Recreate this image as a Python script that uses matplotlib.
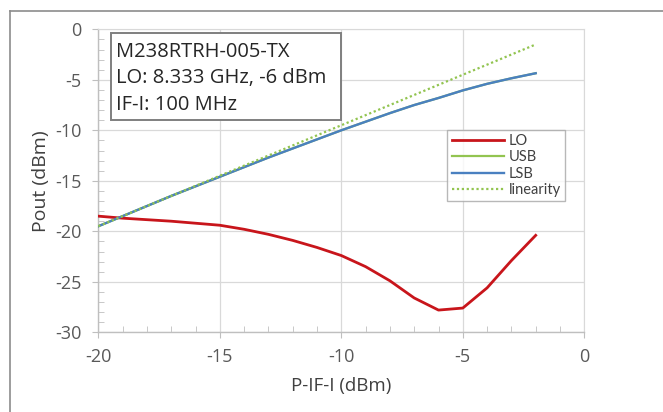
import matplotlib
matplotlib.use("Agg")
import matplotlib.pyplot as plt
from matplotlib.lines import Line2D
from matplotlib.patches import Rectangle
from matplotlib.ticker import MultipleLocator

plt.rcParams['font.family'] = ['Open Sans', 'DejaVu Sans']
plt.rcParams['axes.unicode_minus'] = False

# IF input power sweep (dBm)
p_if = [-20, -19, -18, -17, -16, -15, -14, -13, -12, -11,
        -10, -9, -8, -7, -6, -5, -4, -3, -2]

# Output powers (dBm)
lo_leak = [-18.5, -18.7, -18.85, -19.0, -19.2, -19.4, -19.8, -20.3, -20.9, -21.6,
           -22.4, -23.5, -24.9, -26.6, -27.8, -27.6, -25.6, -22.9, -20.4]
usb = [-19.5, -18.5, -17.5, -16.5, -15.55, -14.6, -13.65, -12.7, -11.8, -10.9,
       -10.0, -9.15, -8.3, -7.5, -6.8, -6.05, -5.4, -4.85, -4.35]
lsb = [-19.5, -18.5, -17.5, -16.5, -15.55, -14.6, -13.65, -12.7, -11.8, -10.9,
       -10.0, -9.15, -8.3, -7.5, -6.8, -6.05, -5.4, -4.85, -4.35]
linearity = [-19.5, -18.5, -17.5, -16.5, -15.5, -14.5, -13.5, -12.5, -11.5, -10.5,
             -9.5, -8.5, -7.5, -6.5, -5.5, -4.5, -3.5, -2.5, -1.5]

info_lines = ["M238RTRH-005-TX", "LO: 8.333 GHz, -6 dBm", "IF-I: 100 MHz"]

W, H = 663, 412
fig = plt.figure(figsize=(W / 100, H / 100), dpi=100)
ax = fig.add_axes([98.3 / W, 1 - 332.3 / H, 486 / W, 303 / H])

# outer chart border (left and top edges)
fig.add_artist(Line2D([9.5 / W, 9.5 / W], [0, 1 - 10.5 / H], transform=fig.transFigure,
                      color='#8c8c8c', lw=1.2))
fig.add_artist(Line2D([9.5 / W, 1], [1 - 10.5 / H, 1 - 10.5 / H], transform=fig.transFigure,
                      color='#8c8c8c', lw=1.2))

red = '#C8151B'
green = '#92C450'
blue = '#4A80C0'

ax.plot(p_if, lo_leak, color=red, lw=2.0, label='LO', zorder=4)
ax.plot(p_if, usb, color=green, lw=1.6, label='USB', zorder=3)
ax.plot(p_if, lsb, color=blue, lw=1.7, label='LSB', zorder=4)
ax.plot(p_if, linearity, color='#92C450', lw=1.6, ls=(0, (1, 1.2)), label='linearity', zorder=5)

ax.set_xlim(-20, 0)
ax.set_ylim(-30, 0)
ax.xaxis.set_major_locator(MultipleLocator(5))
ax.yaxis.set_major_locator(MultipleLocator(5))
ax.xaxis.set_minor_locator(MultipleLocator(1))
ax.yaxis.set_minor_locator(MultipleLocator(1))

ax.grid(True, which='major', color='#d9d9d9', lw=0.9)
ax.set_axisbelow(True)
for s in ['top', 'right']:
    ax.spines[s].set_color('#d9d9d9')
for s in ['left', 'bottom']:
    ax.spines[s].set_color('#bfbfbf')
    ax.spines[s].set_linewidth(1.0)

ax.tick_params(which='major', direction='out', length=4, color='#bfbfbf',
               labelsize=13, labelcolor='#595959', pad=7)
ax.tick_params(which='minor', direction='in', length=4, color='#bfbfbf')
ax.tick_params(axis='y', which='major', pad=8)

ax.set_xlabel('P-IF-I (dBm)', fontsize=13.5, color='#404040', labelpad=8)
ax.set_ylabel('Pout (dBm)', fontsize=14, color='#404040', labelpad=4)

# info box
ax.add_patch(Rectangle((0.0255, 0.7007), 0.4733, 0.2861, transform=ax.transAxes,
                       fill=True, facecolor='white', edgecolor='#7f7f7f', lw=1.4, zorder=6))
for txt, yy in zip(info_lines, [0.926, 0.838, 0.750]):
    ax.text(0.036, yy, txt, transform=ax.transAxes, fontsize=14.5, color='#262626',
            va='center', ha='left', zorder=7)

leg = ax.legend(loc='upper left', bbox_to_anchor=(0.718, 0.668), frameon=True,
                fancybox=False, edgecolor='#a6a6a6', borderaxespad=0,
                prop={'family': 'Lato', 'size': 10.5},
                handlelength=3.6, handletextpad=0.3, labelspacing=0.15,
                borderpad=0.3, labelcolor='#404040')
leg.get_frame().set_linewidth(1.0)
leg.set_zorder(8)

fig.savefig('out.png', dpi=100)
